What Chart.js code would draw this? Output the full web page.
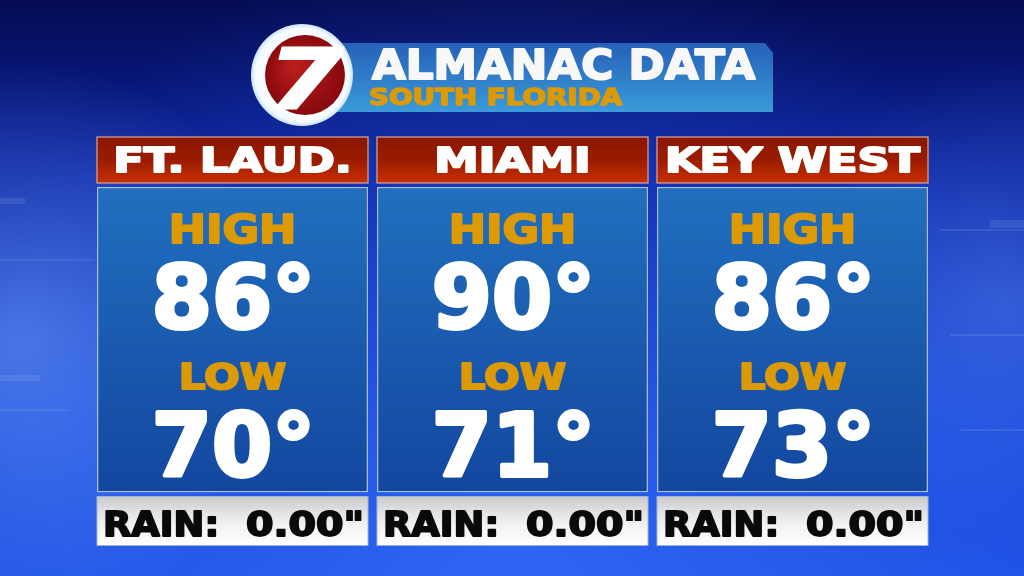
<!DOCTYPE html>
<html>
<head>
<meta charset="utf-8">
<title>Almanac Data</title>
<script src="https://cdn.jsdelivr.net/npm/chart.js@4.4.1/dist/chart.umd.min.js"></script>
<style>
  html, body { margin: 0; padding: 0; background: #0b2aa8; }
  canvas { display: block; }
</style>
</head>
<body>
<canvas id="almanacChart" width="1024" height="576"></canvas>
<script>
// Datos del almanaque
const cities = ['FT. LAUD.', 'MIAMI', 'KEY WEST'];
const highs = [86, 90, 86];
const lows = [70, 71, 73];
const rain = [0.00, 0.00, 0.00];
const titleText = 'ALMANAC DATA';
const subtitleText = 'SOUTH FLORIDA';

const FONT = '"DejaVu Sans", "Liberation Sans", sans-serif';
const GOLD = '#dc9a06';

// Texto con altura de mayúsculas, estiramiento horizontal y trazo extra
function drawText(ctx, txt, x, y, capH, sx, color, align, weight) {
    ctx.save();
    ctx.font = 'bold ' + (capH / 0.729).toFixed(1) + 'px ' + FONT;
    ctx.fillStyle = color;
    ctx.strokeStyle = color;
    ctx.lineJoin = 'round';
    ctx.textAlign = align || 'center';
    ctx.textBaseline = 'alphabetic';
    ctx.translate(x, y);
    ctx.scale(sx, 1);
    ctx.fillText(txt, 0, 0);
    if (weight) {
        ctx.lineWidth = weight;
        ctx.strokeText(txt, 0, 0);
    }
    ctx.restore();
}

// Fondo, banner y logo
const backdrop = {
    id: 'backdrop',
    beforeDraw(chart) {
        const ctx = chart.ctx;
        const w = chart.width, h = chart.height;
        ctx.save();
        let g = ctx.createLinearGradient(0, 0, 0, h);
        g.addColorStop(0, '#040c52');
        g.addColorStop(0.3, '#0a22a0');
        g.addColorStop(0.7, '#1440d4');
        g.addColorStop(1, '#1d4fe4');
        ctx.fillStyle = g;
        ctx.fillRect(0, 0, w, h);

        // brillo central
        let r = ctx.createRadialGradient(512, 560, 20, 512, 560, 620);
        r.addColorStop(0, 'rgba(60,120,255,0.55)');
        r.addColorStop(1, 'rgba(60,120,255,0)');
        ctx.fillStyle = r;
        ctx.fillRect(0, 0, w, h);

        // reflejos laterales
        r = ctx.createRadialGradient(20, 340, 10, 20, 340, 280);
        r.addColorStop(0, 'rgba(120,170,255,0.5)');
        r.addColorStop(1, 'rgba(120,170,255,0)');
        ctx.fillStyle = r;
        ctx.fillRect(0, 0, w, h);
        r = ctx.createRadialGradient(1010, 300, 10, 1010, 300, 240);
        r.addColorStop(0, 'rgba(110,160,255,0.35)');
        r.addColorStop(1, 'rgba(110,160,255,0)');
        ctx.fillStyle = r;
        ctx.fillRect(0, 0, w, h);

        // lineas tenues
        ctx.strokeStyle = 'rgba(180,210,255,0.12)';
        ctx.lineWidth = 2;
        [[0, 260, 95, 260], [0, 410, 70, 410], [940, 230, 1024, 230], [950, 335, 1024, 335], [960, 430, 1024, 430]].forEach(l => {
            ctx.beginPath();
            ctx.moveTo(l[0], l[1]);
            ctx.lineTo(l[2], l[3]);
            ctx.stroke();
        });
        ctx.fillStyle = 'rgba(180,210,255,0.12)';
        ctx.fillRect(0, 198, 25, 6);
        ctx.fillRect(990, 220, 34, 8);
        ctx.fillRect(0, 375, 40, 6);

        // banner del titulo
        g = ctx.createLinearGradient(0, 43, 0, 112);
        g.addColorStop(0, '#2660b8');
        g.addColorStop(1, '#3a9bd9');
        ctx.fillStyle = g;
        ctx.beginPath();
        ctx.moveTo(330, 43);
        ctx.lineTo(765, 43);
        ctx.lineTo(773, 53);
        ctx.lineTo(773, 112);
        ctx.lineTo(330, 112);
        ctx.closePath();
        ctx.fill();
        drawText(ctx, titleText, 372, 79, 30, 1.06, '#f8f8f8', 'left', 2);
        drawText(ctx, subtitleText, 369, 105, 17, 1.19, GOLD, 'left', 1.5);

        // logo 7
        r = ctx.createRadialGradient(302, 75, 30, 302, 75, 51);
        r.addColorStop(0, '#ffffff');
        r.addColorStop(0.8, '#f4faff');
        r.addColorStop(1, '#c8e2fa');
        ctx.fillStyle = r;
        ctx.beginPath();
        ctx.arc(302, 75, 51, 0, Math.PI * 2);
        ctx.fill();
        r = ctx.createRadialGradient(295, 65, 5, 305, 75, 41);
        r.addColorStop(0, '#b81c1c');
        r.addColorStop(1, '#86080c');
        ctx.fillStyle = r;
        ctx.beginPath();
        ctx.arc(305, 75, 40, 0, Math.PI * 2);
        ctx.fill();
        ctx.save();
        ctx.font = 'bold italic 84px ' + FONT;
        ctx.fillStyle = '#ffffff';
        ctx.strokeStyle = '#ffffff';
        ctx.lineWidth = 2;
        ctx.textAlign = 'center';
        ctx.translate(305, 109);
        ctx.scale(1.3, 1);
        ctx.fillText('7', 0, 0);
        ctx.strokeText('7', 0, 0);
        ctx.restore();
        ctx.restore();
    }
};

// Encabezados, textos y lluvia sobre cada panel
const panelText = {
    id: 'panelText',
    afterDatasetsDraw(chart) {
        const ctx = chart.ctx;
        const area = chart.chartArea;
        const bars = chart.getDatasetMeta(0).data;
        bars.forEach((bar, i) => {
            const x = bar.x;
            const left = bar.x - bar.width / 2;
            const w = bar.width;
            ctx.save();

            // encabezado rojo
            const hTop = area.top - 50, hBot = area.top - 4;
            let g = ctx.createLinearGradient(0, hTop, 0, hBot);
            g.addColorStop(0, '#8a1600');
            g.addColorStop(0.5, '#9a1c00');
            g.addColorStop(1, '#c83004');
            ctx.fillStyle = g;
            ctx.fillRect(left, hTop, w, hBot - hTop);
            ctx.strokeStyle = '#d9a69a';
            ctx.lineWidth = 1.2;
            ctx.strokeRect(left, hTop, w, hBot - hTop);
            drawText(ctx, cities[i], x, hTop + 35, 25, 1.3, '#ffffff', 'center', 2);

            // caja de lluvia
            const rTop = area.bottom + 4, rBot = area.bottom + 53;
            g = ctx.createLinearGradient(0, rTop, 0, rBot);
            g.addColorStop(0, '#c9cacc');
            g.addColorStop(0.35, '#e4e4e6');
            g.addColorStop(0.6, '#f2f2f2');
            g.addColorStop(1, '#ffffff');
            ctx.fillStyle = g;
            ctx.fillRect(left, rTop, w, rBot - rTop);
            ctx.strokeStyle = '#9fb3cc';
            ctx.lineWidth = 1;
            ctx.strokeRect(left, rTop, w, rBot - rTop);
            drawText(ctx, 'RAIN:', left + 6, rTop + 39, 24, 1.12, '#0a0a0a', 'left', 1.8);
            drawText(ctx, rain[i].toFixed(2) + '"', left + w - 4, rTop + 39, 24, 1.2, '#0a0a0a', 'right', 1.8);

            // alta y baja
            drawText(ctx, 'HIGH', x, area.top + 56, 28, 1.16, GOLD, 'center', 2);
            drawText(ctx, highs[i] + '°', x + 1, area.top + 141, 63, 1.0, '#ffffff', 'center', 4);
            drawText(ctx, 'LOW', x, area.top + 202, 26, 1.18, GOLD, 'center', 2);
            drawText(ctx, lows[i] + '°', x + 1, area.top + 289, 63, 1.0, '#ffffff', 'center', 4);
            ctx.restore();
        });
    }
};

const ctx = document.getElementById('almanacChart').getContext('2d');
new Chart(ctx, {
    type: 'bar',
    data: {
        labels: cities,
        datasets: [{
            label: 'Panel',
            data: cities.map(() => [0, 1]),
            backgroundColor: function(context) {
                const area = context.chart.chartArea;
                if (!area) return '#1a5cb0';
                const g = context.chart.ctx.createLinearGradient(0, area.top, 0, area.bottom);
                g.addColorStop(0, '#216fbe');
                g.addColorStop(1, '#13479f');
                return g;
            },
            borderColor: '#a9bfd8',
            borderWidth: 1.5,
            borderSkipped: false,
            categoryPercentage: 1,
            barPercentage: 0.968
        }]
    },
    options: {
        responsive: false,
        animation: false,
        devicePixelRatio: 1,
        layout: {
            padding: { left: 92.5, right: 91.5, top: 187, bottom: 83.5 }
        },
        scales: {
            x: { display: false },
            y: { display: false, min: 0, max: 1 }
        },
        plugins: {
            legend: { display: false },
            tooltip: { enabled: false }
        }
    },
    plugins: [backdrop, panelText]
});
</script>
</body>
</html>
